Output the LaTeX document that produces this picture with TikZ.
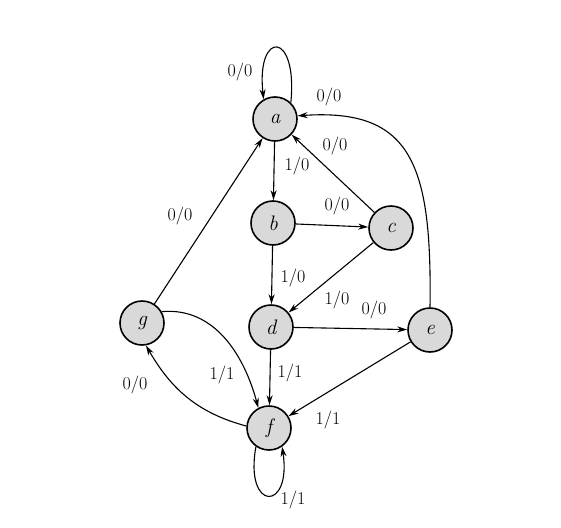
\documentclass[tikz,border=0pt]{standalone}
\usetikzlibrary{arrows.meta}
\begin{document}
\begin{tikzpicture}[x=1pt,y=-1pt,
  stnode/.style={circle,draw=black,line width=1.6pt,fill=gray!30,minimum size=44pt,inner sep=0pt,font=\fontsize{21}{23}\selectfont\itshape},
  edge/.style={draw=black,line width=1.1pt,-{Stealth[length=10pt,width=6pt]}},
  lbl/.style={font=\fontsize{18}{20}\selectfont,inner sep=0pt}]
\useasboundingbox (0,0) rectangle (561,527);
\node[stnode] (a) at (275,119) {a};
\node[stnode] (b) at (273,223) {b};
\node[stnode] (c) at (391,228) {c};
\node[stnode] (d) at (271,327) {d};
\node[stnode] (e) at (430,330) {e};
\node[stnode] (g) at (142,323) {g};
\node[stnode] (f) at (269,428) {f};
% edges
\draw[edge] (a.46) .. controls (298,30) and (256,30) .. (a.120);
\draw[edge] (a) -- (b);
\draw[edge] (c) -- (a);
\draw[edge] (e.90) .. controls (432,165) and (412,108) .. (a.8);
\draw[edge] (b) -- (c);
\draw[edge] (b) -- (d);
\draw[edge] (c) -- (d);
\draw[edge] (d) -- (e);
\draw[edge] (d) -- (f);
\draw[edge] (e) -- (f);
\draw[edge] (g) -- (a);
\draw[edge] (g.30) to[out=5,in=105] (f.118);
\draw[edge] (f.175) to[out=165,in=-60] (g.-80);
\draw[edge] (f.235) .. controls (244,512) and (292,512) .. (f.-55);
% labels
\node[lbl] (la) at (240,72) {0/0};
\node[lbl] (lea) at (329,97) {0/0};
\node[lbl] (lca) at (335,146) {0/0};
\node[lbl] (lab) at (297,166) {1/0};
\node[lbl] (lbc) at (337,206) {0/0};
\node[lbl] (lbd) at (293,278) {1/0};
\node[lbl] (lcd) at (337,300) {1/0};
\node[lbl] (lde) at (374,310) {0/0};
\node[lbl] (ldf) at (290,373) {1/1};
\node[lbl] (lgf) at (222,375) {1/1};
\node[lbl] (lef) at (328,420) {1/1};
\node[lbl] (lfg) at (135,385) {0/0};
\node[lbl] (lff) at (293,500) {1/1};
\node[lbl] (lga) at (180,216) {0/0};
\end{tikzpicture}
\end{document}
